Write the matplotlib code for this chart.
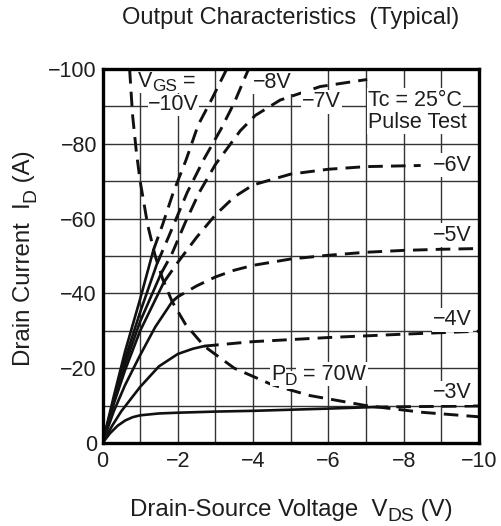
import numpy as np
import matplotlib
matplotlib.use("Agg")
import matplotlib.pyplot as plt
from matplotlib.transforms import IdentityTransform

plt.rcParams['font.family'] = ['Liberation Sans', 'DejaVu Sans']

# ---- data (magnitudes; plotted as negative values) ----
# VGS = -10 V
v10_solid_v = [0, 0.3, 0.6, 1.0, 1.35]
v10_solid_i = [0, 12.5, 24.5, 38.5, 51.5]
v10_dash_v = [1.35, 1.6, 1.88, 2.22, 2.54, 2.89, 3.30]
v10_dash_i = [51.5, 58.5, 67.0, 75.7, 85.0, 91.7, 100.0]
# VGS = -8 V
v8_solid_v = [0, 0.3, 0.6, 1.0, 1.45]
v8_solid_i = [0, 11.5, 22.5, 35.0, 48.0]
v8_dash_v = [1.45, 1.75, 2.0, 2.25, 2.7, 3.15, 3.5, 3.88]
v8_dash_i = [48.0, 55.0, 61.0, 67.0, 76.0, 84.0, 91.0, 100.0]
# VGS = -7 V
v7_solid_v = [0, 0.3, 0.6, 1.0, 1.55]
v7_solid_i = [0, 11.0, 21.0, 32.5, 45.2]
v7_dash_v = [1.55, 1.84, 2.2, 2.57, 3.0, 3.66, 4.06, 4.72, 5.78, 7.03]
v7_dash_i = [45.2, 50.5, 59.0, 67.0, 74.5, 83.5, 87.6, 91.7, 95.3, 97.2]
# VGS = -6 V
v6_solid_v = [0, 0.3, 0.6, 1.0, 1.63]
v6_solid_i = [0, 10.5, 19.5, 30.0, 43.0]
v6_dash_v = [1.63, 2.0, 2.5, 3.0, 3.5, 4.0, 5.0, 6.0, 7.0, 8.45]
v6_dash_i = [43.0, 48.3, 55.0, 61.0, 65.8, 69.0, 71.9, 73.2, 73.9, 74.2]
# VGS = -5 V
v5_solid_v = [0, 0.3, 0.6, 1.0, 1.4, 1.85]
v5_solid_i = [0, 8.5, 15.5, 23.5, 31.0, 37.8]
v5_dash_v = [1.85, 2.0, 2.5, 3.0, 3.5, 4.0, 5.0, 6.0, 7.0, 8.0, 9.0, 10.0]
v5_dash_i = [37.8, 39.1, 42.0, 44.4, 46.2, 47.5, 49.2, 50.2, 51.0, 51.5, 51.8, 52.0]
# VGS = -4 V
v4_solid_v = [0, 0.25, 0.5, 1.0, 1.5, 2.0, 2.4, 2.7]
v4_solid_i = [0, 4.5, 8.5, 15.0, 20.5, 23.8, 25.2, 25.9]
v4_dash_v = [2.7, 3.66, 4.0, 6.0, 8.0, 10.0]
v4_dash_i = [25.9, 26.8, 27.1, 28.2, 29.1, 29.9]
# VGS = -3 V
v3_solid_v = [0, 0.2, 0.4, 0.6, 0.8, 1.0, 1.5, 2.0, 3.0, 4.0, 5.0, 6.0, 7.2]
v3_solid_i = [0, 2.6, 4.6, 6.0, 6.9, 7.4, 7.9, 8.1, 8.4, 8.6, 8.9, 9.2, 9.6]
v3_dash_v = [7.2, 8.0, 9.0, 10.0]
v3_dash_i = [9.6, 9.7, 9.8, 9.9]
# PD = 70 W limit
pd_v = [0.72, 0.8, 0.9, 1.0, 1.2, 1.4, 1.6, 1.85, 2.2, 2.7, 3.5, 4.5, 5.5, 7.0, 8.5, 10.0]
pd_i = [100, 87.5, 77.8, 70, 58.3, 50, 43.8, 37.8, 31.8, 25.9, 20, 15.6, 12.7, 10, 8.2, 7.0]

x_ticks = [0, -2, -4, -6, -8, -10]
y_ticks = [0, -20, -40, -60, -80, -100]

solid_sets = [(v10_solid_v, v10_solid_i), (v8_solid_v, v8_solid_i), (v7_solid_v, v7_solid_i),
              (v6_solid_v, v6_solid_i), (v5_solid_v, v5_solid_i), (v4_solid_v, v4_solid_i),
              (v3_solid_v, v3_solid_i)]
dash_sets = [(v10_dash_v, v10_dash_i), (v8_dash_v, v8_dash_i), (v7_dash_v, v7_dash_i),
             (v6_dash_v, v6_dash_i), (v5_dash_v, v5_dash_i), (v4_dash_v, v4_dash_i),
             (v3_dash_v, v3_dash_i)]

TXT = '#1e1e1e'
fig = plt.figure(figsize=(5.02, 5.26), dpi=100)
ax = fig.add_axes([102.5 / 502, 1 - 443 / 526, (479 - 102.5) / 502, (443 - 69) / 526])

ax.set_xlim(0, -10)
ax.set_ylim(0, -100)
ax.set_xticks(x_ticks)
ax.set_yticks(y_ticks)
ax.set_xticks(np.arange(-1, -10, -2), minor=True)
ax.set_yticks(np.arange(-10, -100, -20), minor=True)
ax.set_xticklabels(['0' if t == 0 else '\u2212' + str(-t) for t in x_ticks])
ax.set_yticklabels(['0' if t == 0 else '\u2212' + str(-t) for t in y_ticks])
ax.tick_params(which='both', length=0, labelcolor=TXT)
ax.tick_params(axis='x', pad=6, labelsize=15.5)
ax.tick_params(axis='y', pad=4, labelsize=15.5)
ax.grid(which='both', color='#333333', linewidth=1.0)
ax.set_axisbelow(True)
for s in ax.spines.values():
    s.set_linewidth(2.4)
    s.set_zorder(5)

for vv, ii in solid_sets:
    ax.plot(-np.array(vv), -np.array(ii), color='#111111', lw=1.9, solid_capstyle='round',
            solid_joinstyle='round', zorder=3)
for vv, ii in dash_sets:
    ax.plot(-np.array(vv), -np.array(ii), color='#111111', lw=2.1, dashes=(5, 2.8), zorder=3)
ax.plot(-np.array(pd_v), -np.array(pd_i), color='#111111', lw=2.1, dashes=(5, 2.8), zorder=3)

fs = 15.5


def lbl(x, y, s, ha='center', pad=1.0):
    # white backing drawn below every label text so that boxes never hide other labels
    ax.text(x, y, s, fontsize=fs, ha=ha, va='center', color='none', zorder=3.5,
            bbox=dict(facecolor='white', edgecolor='none', pad=pad))
    ax.text(x, y, s, fontsize=fs, ha=ha, va='center', color=TXT, zorder=4)


lbl(-1.21, -90.4, '\u221210V', 'left', pad=0.3)
lbl(-4.0, -96.5, '\u22128V', 'left')
lbl(-5.81, -91.2, '\u22127V')
lbl(-7.06, -91.7, 'Tc = 25\u00b0C', 'left')
lbl(-7.06, -85.8, 'Pulse Test', 'left')
lbl(-9.29, -74.3, '\u22126V')
lbl(-9.29, -55.6, '\u22125V')
lbl(-9.29, -32.9, '\u22124V')
lbl(-9.29, -13.4, '\u22123V')

# ---- rich text with larger-than-mathtext subscripts ----
R = fig.canvas.get_renderer()


def piece_width(s, size):
    t = fig.text(0, 0, s, fontsize=size)
    w = t.get_window_extent(R).width
    t.remove()
    return w


def rich(target, xd, yd, parts, size, ha='center', rot=0, bbox=False, zorder=4, pad=1.0):
    px = size * fig.dpi / 72.0
    ws = [piece_width(s, size * sc) for s, sc, off in parts]
    total = sum(ws)
    start = {'center': -total / 2.0, 'left': 0.0, 'right': -total}[ha]
    if rot == 0:
        a, u = np.array([1.0, 0.0]), np.array([0.0, 1.0])
    else:
        a, u = np.array([0.0, 1.0]), np.array([-1.0, 0.0])
    cum = start
    for (s, sc, off), w in zip(parts, ws):
        p = np.array([xd, yd]) + a * cum + u * (-0.358 * px + off * px)
        kw = dict(fontsize=size * sc, ha='left', va='baseline', rotation=rot,
                  rotation_mode='anchor', transform=IdentityTransform(), color=TXT)
        if bbox:
            target.text(p[0], p[1], s, bbox=dict(facecolor='white', edgecolor='none', pad=pad),
                        zorder=3.5, **{**kw, 'color': 'none'})
        target.text(p[0], p[1], s, zorder=zorder, **kw)
        cum += w


H = 526
SUB = 0.8
OFF = -0.23
# labels inside the plot (positions converted from data coordinates)
x0, y0 = ax.transData.transform((-0.94, -97.2))
rich(ax, x0, y0, [('V', 1, 0), ('GS', SUB, -0.2), (' =', 1, 0)], fs, ha='left', bbox=True, pad=0.3)
x0, y0 = ax.transData.transform((-5.74, -19.0))
rich(ax, x0, y0, [('P', 1, 0), ('D', SUB, OFF), (' = 70W', 1, 0)], fs, ha='center', bbox=True)

fig.text(291 / 502, 1 - 18 / 526, 'Output Characteristics  (Typical)', fontsize=17,
         ha='center', va='center', color=TXT)
rich(fig, 291, H - 507, [('Drain-Source Voltage  V', 1, 0), ('DS', SUB, OFF), (' (V)', 1, 0)], 17.3)
rich(fig, 21, H - 258, [('Drain Current  I', 1, 0), ('D', SUB, OFF), (' (A)', 1, 0)], 17.3, rot=90)

fig.savefig('out.png', dpi=100)
